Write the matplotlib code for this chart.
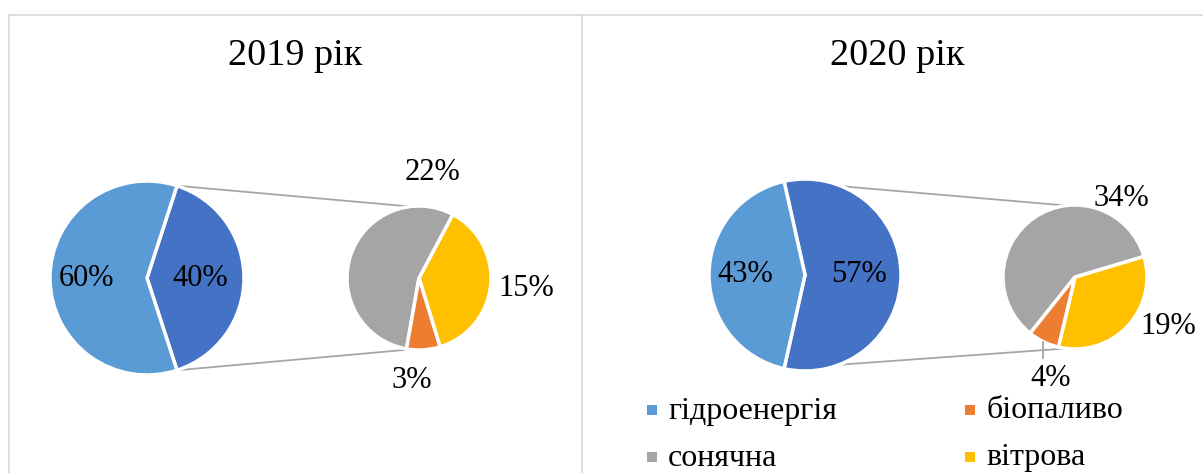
import numpy as np
import matplotlib
matplotlib.use('Agg')
import matplotlib.pyplot as plt

# data
years = ['2019 рік', '2020 рік']
main_2019 = [60, 40]     # гідроенергія, інші
main_2020 = [43, 57]
other_2019 = [15, 22, 3]  # вітрова, сонячна, біопаливо
other_2020 = [19, 34, 4]
legend_labels = ['гідроенергія', 'біопаливо', 'сонячна', 'вітрова']

C_HYDRO = '#5B9BD5'
C_OTHER = '#4472C4'
C_WIND = '#FFC000'
C_SOLAR = '#A5A5A5'
C_BIO = '#ED7D31'
legend_colors = [C_HYDRO, C_BIO, C_SOLAR, C_WIND]

W, H = 1203, 473
plt.rcParams['font.family'] = ['Liberation Serif', 'DejaVu Serif']

fig = plt.figure(figsize=(W / 100, H / 100), dpi=100)
ax = fig.add_axes([0, 0, 1, 1])


def Y(y):
    return H - y


def polar(cx, cy, r, ang):
    a = np.radians(ang)
    return cx + r * np.cos(a), Y(cy) + r * np.sin(a)


# panels: title x, main pie (cx, cy, r), second pie (cx, cy, r, start angle)
panels = [
    dict(title_x=295, main=(147, 278, 97), sec=(419, 278, 72, -73),
         main_vals=main_2019, sec_vals=other_2019,
         lab_main=(0.62, 0.55),
         lab_sec=[(526, 288), (433, 172), (412, 380)]),
    dict(title_x=897, main=(805, 275, 96), sec=(1075, 277, 72, -103.3),
         main_vals=main_2020, sec_vals=other_2020,
         lab_main=(0.625, 0.56),
         lab_sec=[(1168, 326), (1121, 198), (1051, 378)]),
]

wp = dict(edgecolor='white', linewidth=2.5)
FS = 22

for year, p in zip(years, panels):
    ax.text(p['title_x'], Y(56), year, ha='center', va='center', fontsize=27.5)

    hydro, other = p['main_vals']
    cx, cy, r = p['main']
    half = other / 100 * 180
    ax.pie([other, hydro], colors=[C_OTHER, C_HYDRO], startangle=-half,
           center=(cx, Y(cy)), radius=r, wedgeprops=wp)
    x, y = polar(cx, cy, r * p['lab_main'][0], 180)
    ax.text(x, y, f'{hydro}%', ha='center', va='center', fontsize=FS)
    x, y = polar(cx, cy, r * p['lab_main'][1], 0)
    ax.text(x, y, f'{other}%', ha='center', va='center', fontsize=FS)

    scx, scy, sr, sa = p['sec']
    ax.pie(p['sec_vals'], colors=[C_WIND, C_SOLAR, C_BIO], startangle=sa,
           center=(scx, Y(scy)), radius=sr, wedgeprops=wp)
    for v, (lx, ly) in zip(p['sec_vals'], p['lab_sec']):
        ax.text(lx, Y(ly), f'{v}%', ha='center', va='center', fontsize=FS)

    # connector lines between the pies
    for sgn in (1, -1):
        x0, y0 = polar(cx, cy, r, sgn * half)
        x1, y1 = polar(scx, scy, sr, sgn * 97)
        ax.plot([x0, x1], [y0, y1], color='#A6A6A6', lw=1.3, zorder=0)

# leader for 4%
ax.plot([1043, 1043], [Y(342), Y(358)], color='#A6A6A6', lw=1.3)

# legend
leg_pos = [(652, 410), (970, 410), (652, 457), (970, 457)]
for (lx, ly), lab, col in zip(leg_pos, legend_labels, legend_colors):
    ax.scatter([lx], [Y(ly)], marker='s', s=55, color=col, linewidths=0)
    ax.text(lx + 16, Y(ly + 1), lab, ha='left', va='center', fontsize=23)

# chart borders
bc = '#D9D9D9'
ax.plot([9, W], [Y(15), Y(15)], color=bc, lw=1.2)
ax.plot([9, 9], [Y(15), 0], color=bc, lw=1.2)
ax.plot([582, 582], [Y(15), 0], color=bc, lw=1.2)

ax.set_xlim(0, W)
ax.set_ylim(0, H)
ax.set_aspect('equal')
ax.axis('off')

fig.savefig('out.png', dpi=100, facecolor='white')
